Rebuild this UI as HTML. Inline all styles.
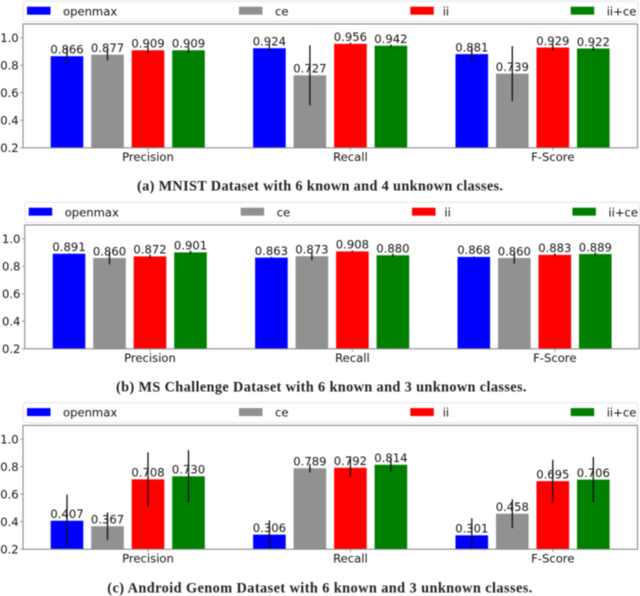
<!DOCTYPE html>
<html lang="en">
<head>
<meta charset="utf-8">
<title>Open-set classification results</title>
<style>
html,body{margin:0;padding:0;background:#fff;width:640px;height:596px;overflow:hidden}
svg{display:block;filter:blur(0.45px)}
.t{font-family:"DejaVu Sans",sans-serif;font-size:11.6px;fill:#111}
.c{font-family:"Liberation Serif",serif;font-weight:bold;font-size:14.3px;fill:#222}
</style>
</head>
<body>
<svg id="fig" xmlns="http://www.w3.org/2000/svg" width="640" height="596" viewBox="0 0 640 596"></svg>
<script>
const categories = ['Precision', 'Recall', 'F-Score'];
const seriesNames = ['openmax', 'ce', 'ii', 'ii+ce'];
const seriesColors = ['#0000ff', '#919191', '#ff0000', '#007f00'];
const yTicks = [0.2, 0.4, 0.6, 0.8, 1.0];

const mnistValues = [[0.866, 0.924, 0.881], [0.877, 0.727, 0.739], [0.909, 0.956, 0.929], [0.909, 0.942, 0.922]];
const mnistErrors = [[0.065, 0.029, 0.053], [0.041, 0.218, 0.200], [0.027, 0.007, 0.025], [0.025, 0.009, 0.017]];

const msValues = [[0.891, 0.863, 0.868], [0.860, 0.873, 0.860], [0.872, 0.908, 0.883], [0.901, 0.880, 0.889]];
const msErrors = [[0.003, 0.005, 0.004], [0.046, 0.028, 0.041], [0.014, 0.006, 0.012], [0.014, 0.012, 0.012]];

const androidValues = [[0.407, 0.306, 0.301], [0.367, 0.789, 0.458], [0.708, 0.792, 0.695], [0.730, 0.814, 0.706]];
const androidErrors = [[0.190, 0.104, 0.124], [0.100, 0.032, 0.105], [0.196, 0.065, 0.155], [0.190, 0.050, 0.165]];

const captions = [
  '(a) MNIST Dataset with 6 known and 4 unknown classes.',
  '(b) MS Challenge Dataset with 6 known and 3 unknown classes.',
  '(c) Android Genom Dataset with 6 known and 3 unknown classes.'
];

const NS = 'http://www.w3.org/2000/svg';
const fig = document.getElementById('fig');

function mk(parent, tag, attrs, text) {
  const el = document.createElementNS(NS, tag);
  for (const k in attrs) el.setAttribute(k, attrs[k]);
  if (text !== undefined) el.textContent = text;
  parent.appendChild(el);
  return el;
}

function drawPanel(id, p, values, errors, caption) {
  const g = mk(fig, 'g', {});
  
  

  const yScale = v => p.bottom - (v - 0.2) / 0.9 * (p.bottom - p.top);
  const xScale = (cat, s) => p.firstTick + cat * 202.4 + (s - 2) * 40.5;
  const barW = 32.6;

  // legend
  const lg = mk(g, 'g', {});
  
  
  const frame = mk(lg, 'rect', {x: p.left + 0.3, y: p.top - 22.7, width: p.right - p.left, height: 20, rx: 2.5, fill: '#fff', stroke: '#e2e2e2', 'stroke-width': 1});
  
  
  const swatchX = [p.left + 4, p.left + 216, p.left + 387.3, p.left + 547.7];
  seriesNames.forEach((name, s) => {
    const sw = mk(lg, 'rect', {x: swatchX[s], y: p.top - 17.3, width: 23.5, height: 8, fill: seriesColors[s]});
    
    
    const tx = mk(lg, 'text', {x: swatchX[s] + (s === 2 ? 32.4 : 36), y: p.top - 8.7, class: 't'}, name);
    
    
  });

  // plot background
  const bg = mk(g, 'rect', {x: p.left, y: p.top, width: p.right - p.left, height: p.bottom - p.top, fill: '#fff'});
  
  

  // bars, then error bars, then value labels
  values.forEach((row, s) => row.forEach((v, c) => {
    const top = yScale(v);
    const bar = mk(g, 'rect', {x: xScale(c, s) - barW / 2, y: top, width: barW, height: p.bottom - top, fill: seriesColors[s]});
    
    
  }));
  values.forEach((row, s) => row.forEach((v, c) => {
    const e = errors[s][c];
    const hi = Math.max(yScale(v + e), p.top);
    const lo = Math.min(yScale(v - e), p.bottom);
    const line = mk(g, 'line', {x1: xScale(c, s), x2: xScale(c, s), y1: hi, y2: lo, stroke: '#111', 'stroke-width': 1.3});
    
    
  }));
  values.forEach((row, s) => row.forEach((v, c) => {
    const label = mk(g, 'text', {x: xScale(c, s), y: yScale(v) - 2.7, 'text-anchor': 'middle', class: 't'}, v.toFixed(3));
    
    
  }));

  // axes frame
  const spine = mk(g, 'rect', {x: p.left, y: p.top, width: p.right - p.left, height: p.bottom - p.top, fill: 'none', stroke: '#808080', 'stroke-width': 1});
  
  

  // y axis
  yTicks.forEach(t => {
    const y = yScale(t);
    const tick = mk(g, 'line', {x1: p.left - 3, x2: p.left, y1: y, y2: y, stroke: '#777', 'stroke-width': 0.7});
    
    
    const label = mk(g, 'text', {x: p.left - 4.3, y: y + 4.2, 'text-anchor': 'end', class: 't'}, t.toFixed(1));
    
    
  });

  // x axis
  categories.forEach((cat, c) => {
    const x = xScale(c, 2);
    const tick = mk(g, 'line', {x1: x, x2: x, y1: p.bottom, y2: p.bottom + 3, stroke: '#777', 'stroke-width': 0.7});
    
    
    const label = mk(g, 'text', {x: x, y: p.bottom + 13.2, 'text-anchor': 'middle', class: 't'}, cat);
    
    
  });

  // caption
  const cap = mk(g, 'text', {x: p.capX, y: p.capY, class: 'c', textLength: p.capW, lengthAdjust: 'spacing'}, caption);
  
  
}

drawPanel('mnist', {left: 23, right: 637.5, top: 24, bottom: 147.8, firstTick: 148, capX: 137, capY: 190.7, capW: 366}, mnistValues, mnistErrors, captions[0]);
drawPanel('ms-challenge', {left: 24.7, right: 639.3, top: 225, bottom: 348.8, firstTick: 150, capX: 116, capY: 391.7, capW: 410.5}, msValues, msErrors, captions[1]);
drawPanel('android-genom', {left: 23, right: 637.5, top: 425.4, bottom: 549.2, firstTick: 148, capX: 107.3, capY: 592.7, capW: 425}, androidValues, androidErrors, captions[2]);
</script>
</body>
</html>
